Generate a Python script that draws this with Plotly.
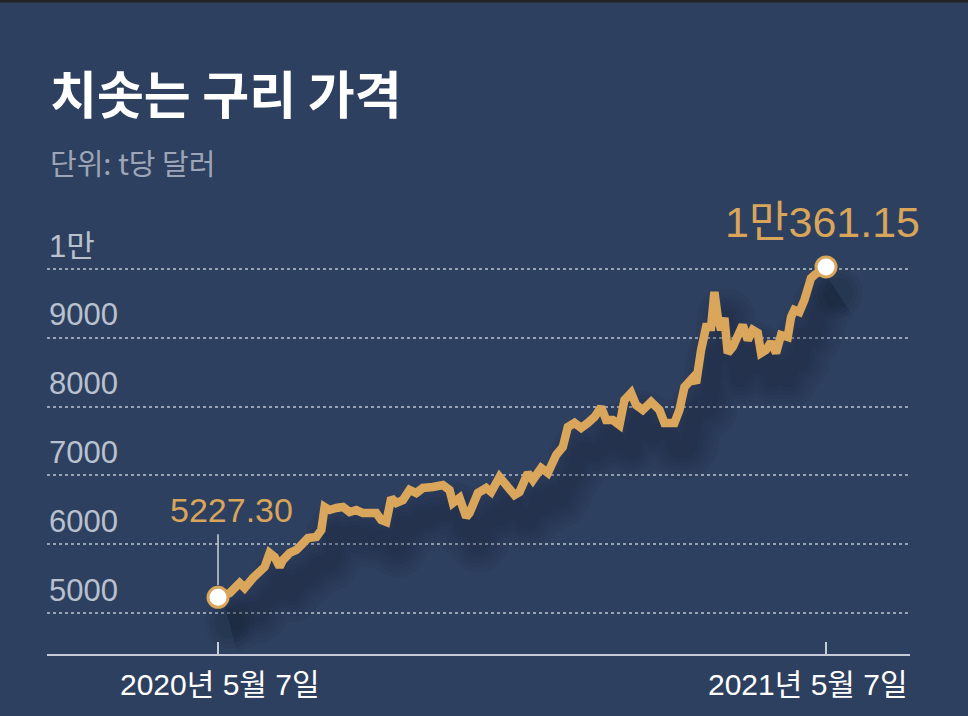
import plotly.graph_objects as go
import pandas as pd

# ---- data ----
dates = ["2020-05-07","2020-05-14","2020-05-20","2020-05-23","2020-05-28","2020-06-01","2020-06-04","2020-06-07","2020-06-10","2020-06-13",
         "2020-06-15","2020-06-19","2020-06-23","2020-06-26","2020-06-30","2020-07-05","2020-07-08","2020-07-10","2020-07-13","2020-07-17",
         "2020-07-21","2020-07-25","2020-07-29","2020-08-02","2020-08-06","2020-08-10","2020-08-13","2020-08-16","2020-08-19","2020-08-22",
         "2020-08-26","2020-08-30","2020-09-03","2020-09-07","2020-09-13","2020-09-19","2020-09-23","2020-09-25","2020-09-29","2020-10-03",
         "2020-10-05","2020-10-10","2020-10-15","2020-10-18","2020-10-23","2020-10-27","2020-11-01","2020-11-04","2020-11-09","2020-11-12",
         "2020-11-17","2020-11-21","2020-11-26","2020-11-30","2020-12-03","2020-12-07","2020-12-11","2020-12-15","2020-12-19","2020-12-23",
         "2020-12-26","2020-12-30","2021-01-03","2021-01-06","2021-01-10","2021-01-13","2021-01-17","2021-01-22","2021-01-27","2021-01-30",
         "2021-02-05","2021-02-08","2021-02-11","2021-02-16","2021-02-18","2021-02-21","2021-02-24","2021-02-27","2021-03-01","2021-03-03",
         "2021-03-05","2021-03-07","2021-03-09","2021-03-12","2021-03-15","2021-03-18","2021-03-21","2021-03-24","2021-03-27","2021-03-29",
         "2021-04-01","2021-04-04","2021-04-07","2021-04-10","2021-04-14","2021-04-16","2021-04-18","2021-04-21","2021-04-24","2021-04-26",
         "2021-04-28","2021-04-30","2021-05-07"]
prices = [5227.3,5291,5436,5363,5509,5625,5669,5872,5814,5669,
          5770,5872,5916,5988,6090,6105,6206,6541,6497,6526,
          6541,6468,6497,6453,6468,6453,6352,6323,6672,6599,
          6642,6788,6744,6817,6831,6860,6788,6599,6672,6395,
          6453,6744,6817,6759,6977,6860,6715,6759,7035,6933,
          7108,7035,7297,7413,7704,7762,7689,7762,7849,7994,
          7805,7805,7733,8096,8198,8023,7951,8067,7951,7762,
          7762,7951,8285,8416,8343,8823,9157,9157,9666,9302,
          9113,9288,8779,8866,9012,9186,8968,9113,9070,8779,
          8823,8939,8779,9041,9012,9302,9404,9375,9549,9767,
          9869,9913,10030]

ytick_vals = [5000, 6000, 7000, 8000, 9000, 10000]
ytick_text = ["5000", "6000", "7000", "8000", "9000", "1만"]
xtick_vals = ["2020-05-07", "2021-05-07"]
xtick_text = ["2020년 5월 7일", "2021년 5월 7일"]
start_label = "5227.30"
end_label = "1만361.15"
title_text = "치솟는 구리 가격"
subtitle_text = "단위: t당 달러"

# ---- style ----
BG = "#2e405f"
GOLD = "#d9a65c"
GOLD_TXT = "#d8a55b"
FONT = "Liberation Sans, Noto Sans CJK KR, sans-serif"

x = pd.to_datetime(dates)
x_shadow = x + pd.Timedelta(days=7)
y_shadow = [p - 380 for p in prices]

fig = go.Figure()

# soft drop shadow under the line (stacked translucent strokes)
for w in [58, 48, 40, 32, 24, 16]:
    fig.add_trace(go.Scatter(x=x_shadow, y=y_shadow, mode="lines",
                             line=dict(color="rgba(12,20,40,0.05)", width=w, shape="spline", smoothing=1.0),
                             hoverinfo="skip", showlegend=False))
for s in [50, 40, 30]:
    fig.add_trace(go.Scatter(x=[x_shadow[0], x_shadow[-1]], y=[y_shadow[0], y_shadow[-1]], mode="markers",
                             marker=dict(size=s, color="rgba(12,20,40,0.08)"),
                             hoverinfo="skip", showlegend=False))

fig.add_trace(go.Scatter(x=x, y=prices, mode="lines",
                         line=dict(color=GOLD, width=8.5),
                         showlegend=False))
fig.add_trace(go.Scatter(x=[x[0], x[-1]], y=[prices[0], prices[-1]], mode="markers",
                         marker=dict(size=20, color="white", line=dict(color=GOLD, width=3)),
                         showlegend=False))

annotations = []
# y labels (sit above gridlines)
for v, t in zip(ytick_vals, ytick_text):
    annotations.append(dict(x=0, xref="paper", y=v, yref="y", text=t, showarrow=False,
                            xanchor="left", yanchor="middle", yshift=23,
                            font=dict(family=FONT, size=31, color="#b9c1cf")))
# x labels
annotations.append(dict(x=xtick_vals[0], xref="x", y=0, yref="paper", text=xtick_text[0], showarrow=False,
                        xanchor="center", yanchor="middle", yshift=-30, xshift=2,
                        font=dict(family=FONT, size=30, color="white")))
annotations.append(dict(x=1, xref="paper", y=0, yref="paper", text=xtick_text[1], showarrow=False,
                        xanchor="right", yanchor="middle", yshift=-30,
                        font=dict(family=FONT, size=30, color="white")))
# value labels
annotations.append(dict(x=x[0], xref="x", y=prices[0], yref="y", text=" ", showarrow=True,
                        ax=0, ay=-66, arrowhead=0, arrowwidth=1.5, arrowcolor="#c8ced8",
                        standoff=12, font=dict(size=2)))
annotations.append(dict(x=x[0], xref="x", y=prices[0], yref="y", text=start_label, showarrow=False,
                        xanchor="center", yanchor="middle", xshift=13, yshift=87,
                        font=dict(family=FONT, size=34, color=GOLD_TXT)))
annotations.append(dict(x=x[-1], xref="x", y=prices[-1], yref="y", text=end_label, showarrow=False,
                        xanchor="center", yanchor="middle", xshift=-4, yshift=45,
                        font=dict(family=FONT, size=43, color=GOLD_TXT)))
# title & subtitle
annotations.append(dict(x=0, xref="paper", y=1, yref="paper", text=f"<b>{title_text}</b>", showarrow=False,
                        xanchor="left", yanchor="middle", yshift=108, xshift=1,
                        font=dict(family="Noto Sans CJK KR", size=51, color="white")))
annotations.append(dict(x=0, xref="paper", y=1, yref="paper", text=subtitle_text, showarrow=False,
                        xanchor="left", yanchor="middle", yshift=38, xshift=1,
                        font=dict(family="Noto Sans CJK KR", size=29, color="#9ca6b8")))

fig.update_layout(
    width=968, height=716,
    margin=dict(l=47, r=58, t=200, b=62),
    paper_bgcolor=BG, plot_bgcolor=BG,
    annotations=annotations,
    shapes=[dict(type="rect", xref="paper", yref="paper", x0=-0.1, x1=1.1,
                 y0=1 + 197.5 / 454, y1=1 + 205 / 454, fillcolor="#242424", line=dict(width=0), layer="above")],
)
fig.update_xaxes(range=["2020-01-25 08:00", "2021-06-26 10:00"], showgrid=False, zeroline=False,
                 showline=True, linecolor="#c5cbd6", linewidth=2,
                 tickvals=pd.to_datetime(xtick_vals), ticks="inside", ticklen=12, tickwidth=2, tickcolor="#c5cbd6",
                 showticklabels=False)
fig.update_yaxes(range=[4404, 11003], tickvals=ytick_vals, showticklabels=False, showgrid=True,
                 gridcolor="#98a3b6", gridwidth=1.5, griddash="dot", zeroline=False, showline=False)

fig.write_html("out.html", config={"displayModeBar": False},
               post_script="document.body.style.margin='0';document.body.style.padding='0';")
